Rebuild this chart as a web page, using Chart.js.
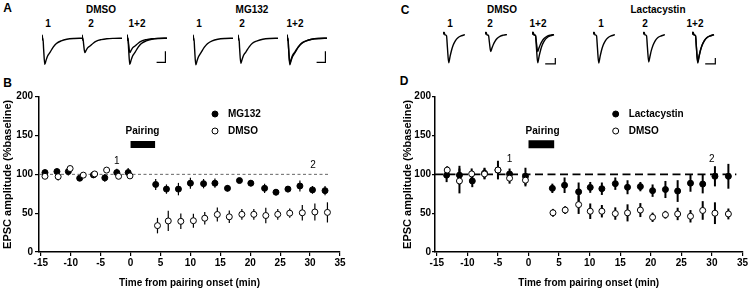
<!DOCTYPE html>
<html>
<head>
<meta charset="utf-8">
<script src="https://cdn.jsdelivr.net/npm/chart.js@4.4.1/dist/chart.umd.min.js"></script>
<style>
  body { margin:0; width:749px; height:291px; background:#fff; position:relative; overflow:hidden;
         font-family:"Liberation Sans", Arial, Helvetica, sans-serif; color:#000; }
  canvas { position:absolute; }
  .t { position:absolute; transform:translate(-50%,-50%); font-weight:bold; font-size:10px; white-space:nowrap; line-height:1; }
  .big { font-size:12px; }
</style>
</head>
<body>
<div class="t big" style="left:7.5px;top:7.5px">A</div>
<div class="t" style="left:101px;top:10px">DMSO</div>
<div class="t" style="left:252px;top:10px">MG132</div>
<div class="t" style="left:48px;top:24px">1</div>
<div class="t" style="left:91px;top:24px">2</div>
<div class="t" style="left:137px;top:24px">1+2</div>
<div class="t" style="left:199px;top:24px">1</div>
<div class="t" style="left:242px;top:24px">2</div>
<div class="t" style="left:295px;top:24px">1+2</div>

<div class="t big" style="left:405px;top:10px">C</div>
<div class="t" style="left:502px;top:10px">DMSO</div>
<div class="t" style="left:658px;top:10px">Lactacystin</div>
<div class="t" style="left:450px;top:24px">1</div>
<div class="t" style="left:490px;top:24px">2</div>
<div class="t" style="left:538px;top:24px">1+2</div>
<div class="t" style="left:601px;top:24px">1</div>
<div class="t" style="left:645px;top:24px">2</div>
<div class="t" style="left:695px;top:24px">1+2</div>

<div class="t big" style="left:7.5px;top:82.5px">B</div>
<div class="t big" style="left:404px;top:81px">D</div>

<canvas id="chartB" width="360" height="211" style="left:0;top:80px"></canvas>
<canvas id="chartD" width="353" height="211" style="left:396px;top:80px"></canvas>

<script>
// ---- data: panel B (MG132 vs DMSO) ----
const mgTime = [-14.3,-12.3,-10.4,-8.5,-6.2,-4.3,-2.3,-0.4, 4.2,6.0,8.0,10.0,12.2,14.1,16.2,18.2,20.1,22.4,24.3,26.3,28.3,30.4,32.5];
const mgAmp  = [102.3,103.6,103.6,95,99.3,95.5,102.3,102.3, 87,81,81,88.6,88,88.6,82,92,88.6,82,77,81,85,80,79];
const mgErr  = [4,4,5,3,4,5,5,6, 7,6,8,7,6,6,4,3,4,6,4,4,7,5,6];

const dmsoBTime = [-14.3,-12.1,-10.1,-7.9,-6.0,-4.0,-2.0,-0.1, 4.5,6.3,8.4,10.5,12.4,14.5,16.5,18.6,20.6,22.6,24.6,26.6,28.7,30.8,32.9];
const dmsoBAmp  = [97.5,97,107.5,99,100.5,105.5,97.5,98, 34,40,39.5,40.3,43.5,48.3,45.3,48.5,48.5,47,48.5,50,50.5,51.5,51];
const dmsoBErr  = [3,5,2,2,3,2,3,3, 10,13,10,9,8,9,8,7,7,10,7,6,10,11,13];

// ---- data: panel D (Lactacystin vs DMSO) ----
const lactTime = [-13.4,-11.3,-9.2,-7.2,-5.0,-3.1,-0.5, 3.9,5.9,8.2,10.1,12.0,14.2,16.2,18.3,20.3,22.4,24.4,26.5,28.5,30.5,32.7];
const lactAmp  = [99,99,91.5,101.5,105.5,100.5,97.5, 82,86,77.5,83.2,81.5,88,83.4,84.2,79,80.5,78.5,88.6,87.5,97.5,97.5];
const lactErr  = [9,12,8,7,12,7,11, 6,10,12,7,8,8,9,6,8,11,14,11,12,13,16];

const dmsoDTime = [-13.3,-11.3,-9.3,-7.2,-5.0,-3.1,-0.5, 4.0,6.0,8.2,10.1,12.0,14.2,16.2,18.3,20.3,22.4,24.4,26.5,28.5,30.5,32.7];
const dmsoDAmp  = [105.5,91.5,100.6,100.5,105.6,95,92.5, 50.5,54,61,52.5,52.5,49.5,50.4,54,44.7,48,49,46,53.5,50,49];
const dmsoDErr  = [5,16,7,7,6,7,8, 5,5,12,10,8,8,11,9,6,5,8,8,12,14,7];

const xTicks = [-15,-10,-5,0,5,10,15,20,25,30,35];
const yTicks = [0,50,100,150,200];
const baselineLevel = 100;
const pairingWindowB = [0, 4.1];
const pairingWindowD = [0, 4.2];

// ---- example EPSC traces (ms, normalised pA) ----
const traceTimeA = [0,0.4,0.8,1.2,2,3.5,5,7,10,14,18,24,31,40,50];
const dmsoA1 = [0,12,-8,0,-40,-100,-85,-68,-54,-34,-20,-10,-4,-1,0];
const dmsoA2 = [0,12,-8,0,-22,-55,-47,-37,-30,-19,-11,-5.5,-2,-0.5,0];
const mgA1   = [0,12,-8,0,-40,-102,-87,-70,-55,-35,-21,-10,-4,-1,0];
const mgA2   = [0,12,-8,0,-38,-96,-82,-65,-52,-33,-19,-10,-4,-1,0];
const scaleBarAT = [37,48,48];
const scaleBarAY = [-92,-92,-50];

const traceTimeC = [0,1,3,4,8,10,13,16,19,23,28,34,42,50];
const dmsoC1 = [0,8,8,0,-4,-45,-100,-78,-58,-38,-22,-11,-4,0];
const dmsoC2 = [0,8,8,0,-3,-27,-60,-47,-35,-23,-13,-6,-2,0];
const lactC1 = [0,8,8,0,-4,-45,-101,-79,-58,-38,-22,-11,-4,0];
const lactC2 = [0,8,8,0,-4,-44,-97,-76,-56,-37,-21,-10,-4,0];
const scaleBarCT = [30,53,53];
const scaleBarCY = [-104,-104,-83];

const family = '"Liberation Sans", Arial, Helvetica, sans-serif';
Chart.defaults.font.family = family;
Chart.defaults.color = '#000';

const pts = (xs, ys) => xs.map((v, i) => ({x: v, y: ys[i]}));

// traces
const traceBoxes = [
  {left:41.7, top:33.1, w:40, h:34, tMax:50, yMin:-110, t:traceTimeA, ys:[dmsoA1]},
  {left:81.7, top:33.1, w:40, h:34, tMax:50, yMin:-110, t:traceTimeA, ys:[dmsoA2]},
  {left:126.7, top:33.1, w:44, h:34, tMax:55, yMin:-110, t:traceTimeA, ys:[dmsoA1, dmsoA2], bar:[scaleBarAT, scaleBarAY]},
  {left:193.3, top:33.1, w:40, h:34, tMax:50, yMin:-110, t:traceTimeA, ys:[mgA1]},
  {left:238.3, top:33.1, w:40, h:34, tMax:50, yMin:-110, t:traceTimeA, ys:[mgA2]},
  {left:286.7, top:33.1, w:44, h:34, tMax:55, yMin:-110, t:traceTimeA, ys:[mgA1, mgA2], bar:[scaleBarAT, scaleBarAY]},
  {left:443.3, top:29.4, w:22, h:38, tMax:50, yMin:-115, t:traceTimeC, ys:[dmsoC1]},
  {left:485, top:29.4, w:22, h:38, tMax:50, yMin:-115, t:traceTimeC, ys:[dmsoC2]},
  {left:531.7, top:29.4, w:24.2, h:38, tMax:55, yMin:-115, t:traceTimeC, ys:[dmsoC1, dmsoC2], bar:[scaleBarCT, scaleBarCY]},
  {left:593, top:29.4, w:22, h:38, tMax:50, yMin:-115, t:traceTimeC, ys:[lactC1]},
  {left:643, top:29.4, w:22, h:38, tMax:50, yMin:-115, t:traceTimeC, ys:[lactC2]},
  {left:691.7, top:29.4, w:24.2, h:38, tMax:55, yMin:-115, t:traceTimeC, ys:[lactC1, lactC2], bar:[scaleBarCT, scaleBarCY]}
];

traceBoxes.forEach(tb => {
  const cv = document.createElement('canvas');
  cv.width = Math.ceil(tb.w); cv.height = tb.h;
  cv.style.left = tb.left + 'px'; cv.style.top = tb.top + 'px';
  document.body.appendChild(cv);
  const datasets = tb.ys.map(ys => ({
    data: pts(tb.t, ys), showLine: true, pointRadius: 0,
    borderColor: '#000', borderWidth: 1.4, cubicInterpolationMode: 'monotone'
  }));
  if (tb.bar) datasets.push({data: pts(tb.bar[0], tb.bar[1]), showLine: true, pointRadius: 0, borderColor: '#000', borderWidth: 1.2});
  new Chart(cv, {
    type: 'scatter',
    data: {datasets},
    options: {
      responsive: false, animation: false, events: [],
      layout: {padding: 0},
      plugins: {legend: {display: false}, tooltip: {enabled: false}},
      scales: {
        x: {display: false, min: 0, max: tb.tMax * cv.width / tb.w},
        y: {display: false, min: tb.yMin, max: 20}
      }
    }
  });
});

// error bars, annotations and legend for the summary panels
const panelExtras = {
  id: 'panelExtras',
  beforeDatasetsDraw(chart) {
    const {ctx, scales: {x, y}} = chart;
    const o = chart.options.plugins.panelExtras;
    ctx.save();
    ctx.strokeStyle = '#000';
    ctx.lineWidth = o.errWidth;
    chart.data.datasets.forEach(ds => {
      if (!ds.errors) return;
      ds.data.forEach((p, j) => {
        const px = x.getPixelForValue(p.x);
        ctx.beginPath();
        ctx.moveTo(px, y.getPixelForValue(p.y - ds.errors[j]));
        ctx.lineTo(px, y.getPixelForValue(p.y + ds.errors[j]));
        ctx.stroke();
      });
    });
    ctx.restore();
  },
  afterDraw(chart) {
    const {ctx, scales: {x, y}, chartArea} = chart;
    const o = chart.options.plugins.panelExtras;
    ctx.save();
    ctx.fillStyle = '#000';
    ctx.textAlign = 'center';
    ctx.textBaseline = 'middle';
    ctx.font = 'bold 10px ' + family;
    ctx.fillText('Pairing', x.getPixelForValue(o.pairingText[0]), y.getPixelForValue(o.pairingText[1]));
    ctx.font = '10px ' + family;
    o.marks.forEach(m => ctx.fillText(m.text, x.getPixelForValue(m.x), y.getPixelForValue(m.y)));
    // legend
    ctx.font = 'bold 10px ' + family;
    ctx.textAlign = 'left';
    o.legend.items.forEach((it, i) => {
      const lx = chartArea.left + o.legend.dx;
      const ly = chartArea.top + o.legend.dy + i * 17;
      ctx.beginPath();
      ctx.arc(lx, ly, 3, 0, Math.PI * 2);
      ctx.fillStyle = it.filled ? '#000' : '#fff';
      ctx.fill();
      ctx.strokeStyle = '#000';
      ctx.lineWidth = 1;
      ctx.stroke();
      ctx.fillStyle = '#000';
      ctx.fillText(it.text, lx + 13, ly + 0.5);
    });
    ctx.restore();
  }
};

function makePanel(id, o) {
  const axisFont = {size: 10, weight: 'bold', family};
  new Chart(document.getElementById(id), {
    type: 'scatter',
    data: {
      datasets: [
        {label: 'DMSO', data: pts(o.openT, o.openA), errors: o.openE, pointRadius: 3,
         pointBackgroundColor: '#fff', pointBorderColor: '#000', pointBorderWidth: 1, order: 0},
        {label: o.filledLabel, data: pts(o.fillT, o.fillA), errors: o.fillE, pointRadius: 3,
         pointBackgroundColor: '#000', pointBorderColor: '#000', pointBorderWidth: 1, order: 1},
        {data: pts(o.baselineX, o.baselineX.map(() => baselineLevel)), showLine: true, pointRadius: 0,
         borderColor: o.dashColor, borderWidth: o.dashWidth, borderDash: o.dash, order: 2},
        {data: pts(o.pairing, o.pairing.map(() => o.pairY)), showLine: true, pointRadius: 0,
         borderColor: '#000', borderWidth: o.pairThick, borderCapStyle: 'butt', order: 2}
      ]
    },
    options: {
      responsive: false, animation: false, events: [],
      layout: {padding: {top: 16.7, right: o.padRight, left: 0, bottom: 0}},
      plugins: {
        legend: {display: false}, tooltip: {enabled: false},
        panelExtras: {errWidth: o.errWidth, marks: o.marks, pairingText: o.pairingText, legend: o.legend}
      },
      scales: {
        x: {
          type: 'linear', min: -15.3, max: 35,
          afterBuildTicks: s => { s.ticks = xTicks.map(v => ({value: v})); },
          afterFit: s => { s.height = 39; },
          grid: {display: true, drawOnChartArea: false, drawTicks: true, tickLength: 4, color: '#000', lineWidth: 1.2},
          border: {display: true, color: '#000', width: 1.5},
          ticks: {color: '#000', font: axisFont, padding: 1, maxRotation: 0, autoSkip: false},
          title: {display: true, text: 'Time from pairing onset (min)', color: '#000', font: axisFont, padding: {top: 0, bottom: 2}}
        },
        y: {
          type: 'linear', min: 0, max: 200,
          afterBuildTicks: s => { s.ticks = yTicks.map(v => ({value: v})); },
          afterFit: s => { s.width = 39; },
          grid: {display: true, drawOnChartArea: false, drawTicks: true, tickLength: o.yTick, color: '#000', lineWidth: 1.2},
          border: {display: true, color: '#000', width: 1.5},
          ticks: {color: '#000', font: axisFont, padding: o.yTickPad},
          title: {display: true, text: 'EPSC amplitude (%baseline)', color: '#000',
                  font: {size: 11, weight: 'bold', family}, padding: {top: o.yTitlePad, bottom: 0}}
        }
      }
    },
    plugins: [panelExtras]
  });
}

makePanel('chartB', {
  openT: dmsoBTime, openA: dmsoBAmp, openE: dmsoBErr,
  fillT: mgTime, fillA: mgAmp, fillE: mgErr, filledLabel: 'MG132',
  baselineX: [-15.3, 33.4], dashColor: '#666', dashWidth: 1, dash: [3, 2.5],
  pairing: pairingWindowB, pairY: 138.5, pairThick: 7,
  pairingText: [2, 155],
  marks: [{text: '1', x: -2.3, y: 117}, {text: '2', x: 30.5, y: 112}],
  legend: {dx: 176, dy: 17.3, items: [{text: 'MG132', filled: true}, {text: 'DMSO', filled: false}]},
  errWidth: 1.2, padRight: 20, yTick: 4, yTickPad: 2, yTitlePad: 1.7
});

makePanel('chartD', {
  openT: dmsoDTime, openA: dmsoDAmp, openE: dmsoDErr,
  fillT: lactTime, fillA: lactAmp, fillE: lactErr, filledLabel: 'Lactacystin',
  baselineX: [-15.3, 34], dashColor: '#000', dashWidth: 1.6, dash: [8, 4.5],
  pairing: pairingWindowD, pairY: 138.7, pairThick: 8,
  pairingText: [2.3, 155],
  marks: [{text: '1', x: -3.1, y: 119}, {text: '2', x: 30, y: 119}],
  legend: {dx: 180.7, dy: 17.3, items: [{text: 'Lactacystin', filled: true}, {text: 'DMSO', filled: false}]},
  errWidth: 2, padRight: 6.3, yTick: 3, yTickPad: 1, yTitlePad: 5.7
});
</script>
</body>
</html>
